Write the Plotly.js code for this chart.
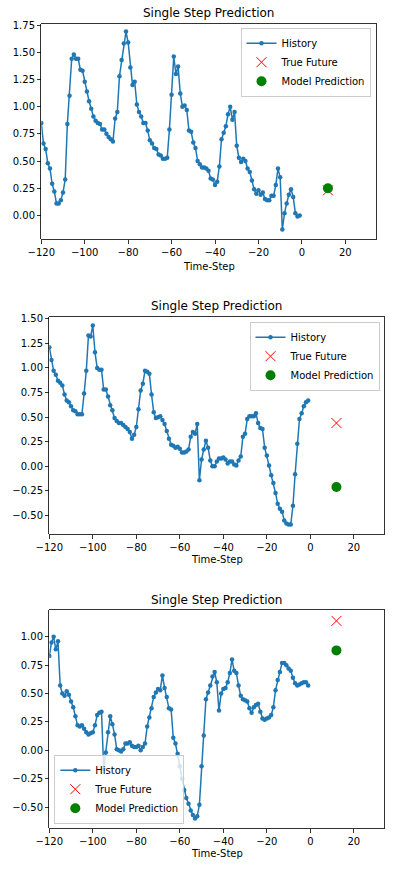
<!DOCTYPE html>
<html><head><meta charset="utf-8">
<script src="https://cdn.plot.ly/plotly-3.0.1.min.js"></script>
<style>html,body{margin:0;padding:0;background:#fff;} #chart{width:397px;height:874px;}</style>
</head><body><div id="chart"></div>
<script>
const timeSteps = [-120,-119,-118,-117,-116,-115,-114,-113,-112,-111,-110,-109,-108,-107,-106,-105,-104,-103,-102,-101,
-100,-99,-98,-97,-96,-95,-94,-93,-92,-91,-90,-89,-88,-87,-86,-85,-84,-83,-82,-81,
-80,-79,-78,-77,-76,-75,-74,-73,-72,-71,-70,-69,-68,-67,-66,-65,-64,-63,-62,-61,
-60,-59,-58,-57,-56,-55,-54,-53,-52,-51,-50,-49,-48,-47,-46,-45,-44,-43,-42,-41,
-40,-39,-38,-37,-36,-35,-34,-33,-32,-31,-30,-29,-28,-27,-26,-25,-24,-23,-22,-21,
-20,-19,-18,-17,-16,-15,-14,-13,-12,-11,-10,-9,-8,-7,-6,-5,-4,-3,-2,-1];

const history1 = [0.85,0.66,0.61,0.48,0.43,0.29,0.22,0.11,0.11,0.14,
0.21,0.33,0.84,1.10,1.44,1.48,1.44,1.44,1.34,1.33,
1.23,1.14,1.05,0.98,0.91,0.87,0.85,0.84,0.79,0.79,
0.75,0.72,0.70,0.68,0.89,0.95,1.28,1.43,1.58,1.69,
1.59,1.36,1.20,1.23,1.02,0.95,0.91,0.85,0.85,0.78,
0.69,0.66,0.62,0.61,0.56,0.55,0.52,0.52,0.53,0.79,
1.11,1.46,1.30,1.37,1.12,1.00,1.01,0.97,0.78,0.77,
0.67,0.62,0.50,0.47,0.44,0.44,0.43,0.41,0.34,0.33,
0.28,0.31,0.45,0.70,0.76,0.82,0.93,1.00,0.88,0.95,
0.64,0.53,0.49,0.52,0.50,0.43,0.40,0.32,0.24,0.20,
0.23,0.19,0.21,0.15,0.14,0.14,0.18,0.18,0.28,0.43,
0.35,-0.13,0.02,0.11,0.19,0.24,0.17,0.02,-0.01,0.00];

const history2 = [1.21,1.08,0.97,0.93,0.87,0.85,0.82,0.73,0.67,0.65,
0.61,0.57,0.56,0.53,0.53,0.53,0.74,0.97,1.33,1.32,
1.43,1.16,1.00,0.98,0.98,0.78,0.78,0.71,0.62,0.57,
0.49,0.46,0.44,0.44,0.42,0.40,0.38,0.35,0.28,0.32,
0.40,0.58,0.77,0.84,0.97,0.96,0.94,0.73,0.55,0.49,
0.50,0.51,0.47,0.43,0.36,0.28,0.22,0.21,0.19,0.20,
0.18,0.14,0.14,0.15,0.17,0.30,0.35,0.33,0.43,-0.14,
0.07,0.17,0.26,0.19,0.06,0.00,0.00,0.05,0.08,0.08,
0.09,0.07,0.03,0.05,0.05,0.02,0.01,0.06,0.10,0.30,
0.33,0.48,0.51,0.51,0.51,0.54,0.44,0.39,0.38,0.19,
0.11,0.01,-0.09,-0.17,-0.27,-0.38,-0.43,-0.46,-0.55,-0.58,
-0.59,-0.59,-0.40,-0.08,0.23,0.48,0.54,0.61,0.65,0.67];

const history3 = [0.83,0.95,1.00,0.89,0.96,0.57,0.50,0.48,0.52,0.49,
0.43,0.38,0.30,0.22,0.21,0.22,0.19,0.16,0.14,0.15,
0.16,0.22,0.31,0.33,0.34,-0.16,-0.02,0.16,0.30,0.23,
0.14,0.01,0.00,-0.01,0.01,0.06,0.06,0.07,0.04,0.03,
0.03,0.04,0.00,0.03,0.06,0.21,0.29,0.37,0.47,0.51,
0.54,0.53,0.66,0.55,0.47,0.37,0.36,0.11,0.06,-0.03,
-0.14,-0.25,-0.35,-0.42,-0.47,-0.53,-0.57,-0.60,-0.58,-0.48,
-0.14,0.13,0.45,0.51,0.57,0.65,0.69,0.60,0.35,0.50,
0.54,0.55,0.60,0.68,0.80,0.70,0.68,0.57,0.48,0.45,
0.44,0.43,0.37,0.33,0.38,0.40,0.41,0.34,0.28,0.27,
0.28,0.29,0.31,0.38,0.53,0.62,0.69,0.77,0.77,0.75,
0.72,0.70,0.64,0.59,0.57,0.58,0.59,0.60,0.60,0.57];

const histories = [history1, history2, history3];
const futureStep = [12];
const trueFuture = [0.23, 0.44, 1.14];
const modelPrediction = [0.25, -0.21, 0.88];
const titleText = 'Single Step Prediction';
const xTitleText = 'Time-Step';
const xTickVals = [-120,-100,-80,-60,-40,-20,0,20];
const yTickVals1 = [0,0.25,0.5,0.75,1.0,1.25,1.5,1.75];
const yTickVals2 = [-0.5,-0.25,0,0.25,0.5,0.75,1.0,1.25,1.5];
const yTickVals3 = [-0.5,-0.25,0,0.25,0.5,0.75,1.0];
const yTickSets = [yTickVals1, yTickVals2, yTickVals3];
const legendNames = ['History','True Future','Model Prediction'];

const W = 397, H = 874;
const px = v => v / W;
const py = v => 1 - v / H;

const panels = [
  {l:41.3, r:375.7, t:24, b:239.3, yr:[-0.22,1.76], ty:12.7, xty:266.5,
   leg:{x:px(370.5), y:py(27.7), xanchor:'right', yanchor:'top'}},
  {l:49.3, r:384.3, t:316.7, b:534.3, yr:[-0.69,1.52], ty:306, xty:559.5,
   leg:{x:px(379.5), y:py(321.7), xanchor:'right', yanchor:'top'}},
  {l:49.3, r:384.3, t:610, b:828.3, yr:[-0.687,1.236], ty:600.3, xty:853,
   leg:{x:px(54.3), y:py(823.7), xanchor:'left', yanchor:'bottom'}}
];

const FONT = 'DejaVu Sans, sans-serif';
const traces = [];
const layout = {
  width: W, height: H,
  margin: {l:0, r:0, t:0, b:0},
  paper_bgcolor: '#fff', plot_bgcolor: '#fff',
  font: {family: FONT, size: 10, color: '#000'},
  annotations: [],
  showlegend: true
};

panels.forEach((p, k) => {
  const n = k + 1;
  const xa = n === 1 ? 'x' : 'x' + n;
  const ya = n === 1 ? 'y' : 'y' + n;
  const lg = n === 1 ? 'legend' : 'legend' + n;
  traces.push({
    x: timeSteps, y: histories[k], xaxis: xa, yaxis: ya, legend: lg,
    type: 'scatter', mode: 'lines+markers', name: legendNames[0],
    line: {color: '#1f77b4', width: 1.5},
    marker: {color: '#1f77b4', size: 4.5}
  });
  traces.push({
    x: futureStep, y: [trueFuture[k]], xaxis: xa, yaxis: ya, legend: lg,
    type: 'scatter', mode: 'markers', name: legendNames[1],
    marker: {symbol: 'x-thin-open', size: 10, color: 'red', line: {color: 'red', width: 1}}
  });
  traces.push({
    x: futureStep, y: [modelPrediction[k]], xaxis: xa, yaxis: ya, legend: lg,
    type: 'scatter', mode: 'markers', name: legendNames[2],
    marker: {symbol: 'circle', size: 10, color: 'green'}
  });
  const axBase = {
    showgrid: false, zeroline: false, showline: true, mirror: true,
    linecolor: '#000', linewidth: 0.8, ticks: 'outside', ticklen: 3.5,
    tickwidth: 0.8, tickcolor: '#000',
    tickfont: {family: FONT, size: 10, color: '#000'}
  };
  layout['xaxis' + (n === 1 ? '' : n)] = Object.assign({}, axBase, {
    domain: [px(p.l), px(p.r)], anchor: ya, range: [-120, 34],
    tickmode: 'array', tickvals: xTickVals
  });
  layout['yaxis' + (n === 1 ? '' : n)] = Object.assign({}, axBase, {
    domain: [py(p.b), py(p.t)], anchor: xa, range: p.yr,
    tickmode: 'array', tickvals: yTickSets[k], tickformat: '.2f'
  });
  layout[lg] = Object.assign({}, p.leg, {
    bgcolor: 'rgba(255,255,255,0.8)', bordercolor: '#cccccc', borderwidth: 1,
    font: {family: FONT, size: 10, color: '#000'}, itemwidth: 30,
    tracegroupgap: 0
  });
  layout.annotations.push({
    text: titleText, xref: 'paper', yref: 'paper',
    x: px((p.l + p.r) / 2), y: py(p.ty), xanchor: 'center', yanchor: 'middle',
    showarrow: false, font: {family: FONT, size: 12, color: '#000'}
  });
  layout.annotations.push({
    text: xTitleText, xref: 'paper', yref: 'paper',
    x: px((p.l + p.r) / 2), y: py(p.xty), xanchor: 'center', yanchor: 'middle',
    showarrow: false, font: {family: FONT, size: 10, color: '#000'}
  });
});

Plotly.newPlot('chart', traces, layout, {displayModeBar: false, staticPlot: true});
</script>
</body></html>
